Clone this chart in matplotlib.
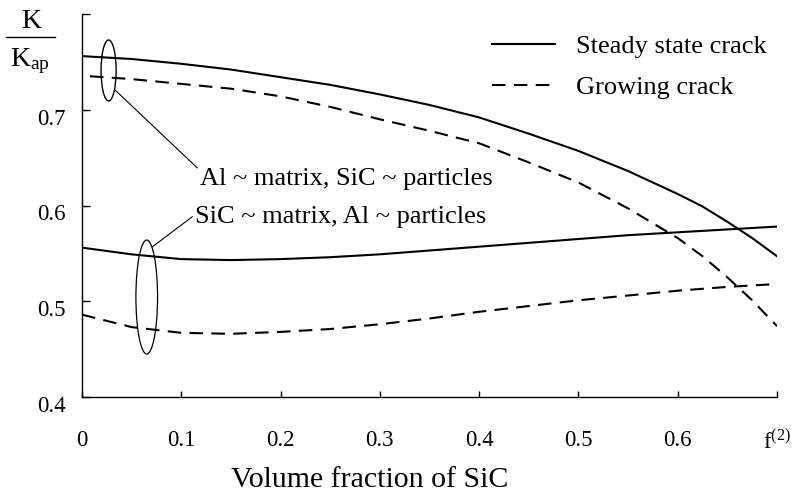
import matplotlib
matplotlib.use("Agg")
import matplotlib.pyplot as plt
from matplotlib.patches import Ellipse
from matplotlib.lines import Line2D
import matplotlib.transforms as mtransforms

plt.rcParams['font.family'] = ['Liberation Serif', 'DejaVu Serif']
plt.rcParams['mathtext.fontset'] = 'custom'
plt.rcParams['mathtext.rm'] = 'Liberation Serif'
plt.rcParams['mathtext.it'] = 'Liberation Serif:italic'

# ---- data ----
f = [0.0, 0.05, 0.1, 0.15, 0.2, 0.25, 0.3, 0.35, 0.4, 0.45, 0.5, 0.55, 0.6, 0.65, 0.7]
f_steady_al = [0.0, 0.05, 0.1, 0.15, 0.2, 0.25, 0.3, 0.35, 0.4, 0.45, 0.5, 0.55, 0.6,
               0.625, 0.65, 0.675, 0.7]
f_grow_al = [0.008, 0.05, 0.1, 0.15, 0.2, 0.25, 0.3, 0.35, 0.4, 0.45, 0.5, 0.55, 0.6,
             0.625, 0.65, 0.675, 0.7]

al_matrix_steady = [0.756, 0.753, 0.748, 0.742, 0.734, 0.726, 0.716, 0.705, 0.692,
                    0.675, 0.657, 0.636, 0.612, 0.599, 0.583, 0.566, 0.547]
al_matrix_growing = [0.735, 0.732, 0.727, 0.722, 0.714, 0.703, 0.690, 0.678, 0.665,
                     0.645, 0.624, 0.597, 0.566, 0.547, 0.525, 0.501, 0.474]
sic_matrix_steady = [0.556, 0.549, 0.544, 0.543, 0.544, 0.546, 0.549, 0.553, 0.557,
                     0.561, 0.565, 0.569, 0.572, 0.575, 0.578]
sic_matrix_growing = [0.486, 0.473, 0.467, 0.466, 0.468, 0.471, 0.476, 0.482, 0.489,
                      0.495, 0.501, 0.506, 0.511, 0.515, 0.518]

x_ticks = [0.0, 0.1, 0.2, 0.3, 0.4, 0.5, 0.6, 0.7]
x_ticklabels = ['0', '0.1', '0.2', '0.3', '0.4', '0.5', '0.6', r'$\mathrm{f}^{(2)}$']
y_ticks = [0.4, 0.5, 0.6, 0.7, 0.8]
y_ticklabels = ['0.4', '0.5', '0.6', '0.7', '']

legend_labels = ['Steady state crack', 'Growing crack']
label_al = 'Al ~ matrix, SiC ~ particles'
label_sic = 'SiC ~ matrix, Al ~ particles'
x_title = 'Volume fraction of SiC'

# ---- figure ----
W, H = 792, 495
fig = plt.figure(figsize=(W / 100, H / 100), dpi=100)
ax = fig.add_axes([82 / W, 1 - 397 / H, (777 - 82) / W, (397 - 14) / H])
ax.set_xlim(0, 0.7)
ax.set_ylim(0.4, 0.8)

dash = (0, (6.5, 4))
lw = 1.5
ax.plot(f_steady_al, al_matrix_steady, color='black', lw=lw)
ax.plot(f_grow_al, al_matrix_growing, color='black', lw=lw, linestyle=dash)
ax.plot(f, sic_matrix_steady, color='black', lw=lw)
ax.plot(f, sic_matrix_growing, color='black', lw=lw, linestyle=dash)

# spines
for s in ['top', 'right']:
    ax.spines[s].set_visible(False)
for s in ['left', 'bottom']:
    ax.spines[s].set_linewidth(1.0)

ax.set_xticks(x_ticks)
ax.set_xticklabels(x_ticklabels, fontsize=16.5)
ax.set_yticks(y_ticks)
ax.set_yticklabels(y_ticklabels, fontsize=16.5)
ax.tick_params(axis='x', direction='in', length=4.5, width=1.0, pad=24)
ax.tick_params(axis='y', direction='in', length=5.5, width=1.0, pad=12)
off = mtransforms.ScaledTranslation(0, -7 / 100, fig.dpi_scale_trans)
for lab in ax.get_yticklabels():
    lab.set_transform(lab.get_transform() + off)

# ellipses marking the curve groups
ax.add_patch(Ellipse((0.0268, 0.741), 0.0152, 0.0637, fill=False, ec='black', lw=1.0))
ax.add_patch(Ellipse((0.0652, 0.5044), 0.0218, 0.119, fill=False, ec='black', lw=0.9))

ax.annotate(label_al, xy=(0.0333, 0.7206), xytext=(0.119, 0.621),
            fontsize=19, ha='left', va='baseline',
            arrowprops=dict(arrowstyle='-', color='black', lw=0.8,
                            shrinkA=0, shrinkB=0, relpos=(0, 0.9)))
ax.annotate(label_sic, xy=(0.0707, 0.5567), xytext=(0.114, 0.582),
            fontsize=19, ha='left', va='baseline',
            arrowprops=dict(arrowstyle='-', color='black', lw=0.8,
                            shrinkA=0, shrinkB=0, relpos=(0, 0.6)))

# legend
handles = [Line2D([], [], color='black', lw=lw),
           Line2D([], [], color='black', lw=lw, linestyle=dash)]
ax.legend(handles, legend_labels, loc='upper left',
          bbox_to_anchor=(492 / W, 1 - 35 / H), bbox_transform=fig.transFigure,
          frameon=False, fontsize=19, handlelength=2.4, handletextpad=0.8,
          borderpad=0, borderaxespad=0, labelspacing=0.65)

# y label as fraction K / K_ap
fig.text(31 / W, 1 - 21 / H, 'K', fontsize=20, ha='center', va='center')
fig.add_artist(Line2D([6 / W, 55 / W], [1 - 36.7 / H, 1 - 36.7 / H],
                      transform=fig.transFigure, color='black', lw=1.0))
fig.text(30 / W, 1 - 61 / H, r'K$_{\mathrm{ap}}$', fontsize=20, ha='center', va='center')

# x label
fig.text(370 / W, 1 - 480 / H, x_title, fontsize=21.5, ha='center', va='center')

fig.savefig('out.png', dpi=100)
